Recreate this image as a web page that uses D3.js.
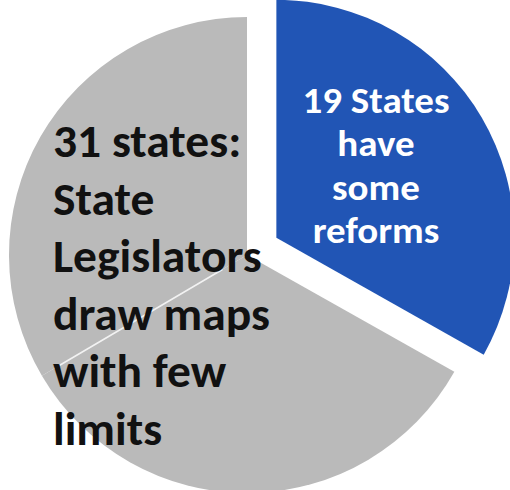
<!DOCTYPE html>
<html>
<head>
<meta charset="utf-8">
<script src="https://cdn.jsdelivr.net/npm/d3@7"></script>
<style>
  html, body { margin: 0; padding: 0; background: #fff; }
  svg { display: block; }
</style>
</head>
<body>
<div id="chart"></div>
<script>
// slices, clockwise from 12 o'clock (share of the circle)
const sliceNames = ["reforms", "legislators-a", "legislators-b"];
const sliceShares = [33.2, 33.4, 33.5];
const sliceColors = ["#2155b5", "#bababa", "#bababa"];

const reformLines = ["19 States", "have", "some", "reforms"];
const legislatorLines = ["31 states:", "State", "Legislators", "draw maps", "with few", "limits"];

const width = 510, height = 490;
const cx = 247, cy = 255, radius = 238;
const explode = 34;
const font = "Carlito, Calibri, Lato, 'Open Sans', sans-serif";

const svg = d3.select("#chart")
  .append("svg")
  .attr("width", width)
  .attr("height", height);

const pie = d3.pie().sort(null).value(d => d);
const arcs = pie(sliceShares);
const arc = d3.arc().innerRadius(0).outerRadius(radius);

const g = svg.append("g").attr("transform", `translate(${cx},${cy})`);

// pull the first slice out along its mid angle
function offset(d, i) {
  if (i !== 0) return "translate(0,0)";
  const a = (d.startAngle + d.endAngle) / 2;
  return `translate(${Math.sin(a) * explode},${-Math.cos(a) * explode})`;
}

g.selectAll("path.slice")
  .data(arcs)
  .enter()
  .append("path")
  .attr("class", d => "slice " + sliceNames[d.index])
  .attr("transform", (d, i) => offset(d, i))
  .attr("d", arc)
  .attr("fill", (d, i) => sliceColors[i]);

// faint divider between the two grey slices
const divA = arcs[2].startAngle;
g.append("line")
  .attr("x1", Math.sin(divA) * radius * 0.12)
  .attr("y1", -Math.cos(divA) * radius * 0.12)
  .attr("x2", Math.sin(divA) * radius * 0.94)
  .attr("y2", -Math.cos(divA) * radius * 0.94)
  .attr("stroke", "#f2f2f2")
  .attr("stroke-width", 1.6);

// fit a text block to a target width (Calibri metrics differ from the fallbacks)
function fit(sel, widest, target, anchorX) {
  const w = sel.filter((d, i) => i === widest).node().getComputedTextLength();
  const s = target / w;
  sel.attr("transform", `translate(${anchorX},0) scale(${s},1) translate(${-anchorX},0)`);
}

// grey label
const leftX = 53;
const blackText = svg.append("g").selectAll("text")
  .data(legislatorLines)
  .enter()
  .append("text")
  .attr("x", leftX)
  .attr("y", (d, i) => 157 + i * 57.6)
  .attr("font-family", font)
  .attr("font-weight", 700)
  .attr("font-size", 46)
  .attr("fill", "#111")
  .text(d => d);
fit(blackText, 3, 217, leftX);

// blue label
const midX = 376;
const whiteText = svg.append("g").selectAll("text")
  .data(reformLines)
  .enter()
  .append("text")
  .attr("x", midX)
  .attr("y", (d, i) => 113 + i * 43.5)
  .attr("text-anchor", "middle")
  .attr("font-family", font)
  .attr("font-weight", 700)
  .attr("font-size", 36)
  .attr("fill", "#fff")
  .text(d => d);
fit(whiteText, 0, 147, midX);
</script>
</body>
</html>
